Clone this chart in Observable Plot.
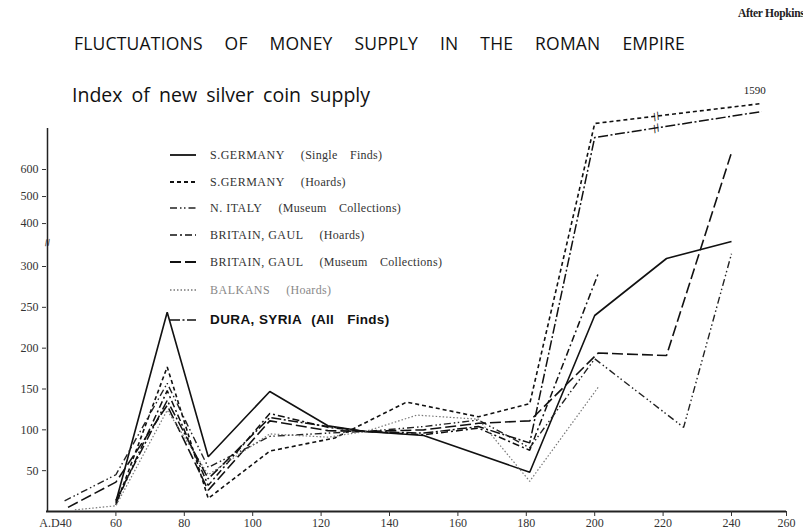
<!DOCTYPE html>
<html><head><meta charset="utf-8">
<script src="https://cdn.jsdelivr.net/npm/d3@7"></script>
<script src="https://cdn.jsdelivr.net/npm/@observablehq/plot@0.6"></script>
<style>
body{margin:0;background:#fff;}
#wrap{position:relative;width:803px;height:531px;overflow:hidden;background:#fff;}
.t{position:absolute;white-space:nowrap;line-height:1;}
#title{left:74px;top:35px;font-family:"Open Sans";font-size:17.5px;color:#111;letter-spacing:0.2px;}
#sub{left:72px;top:85px;font-family:"Open Sans";font-size:19.5px;color:#111;}
#after{left:738px;top:8px;font-family:"Liberation Serif";font-size:11.5px;font-weight:bold;color:#222;letter-spacing:-0.3px;}
.leg{position:absolute;left:170px;height:16px;white-space:nowrap;}
.leg svg{position:absolute;left:0;top:5px;}
.leg .lab{position:absolute;left:40px;top:0;font-family:"Liberation Serif";font-size:12px;color:#333;line-height:16px;letter-spacing:0.5px;}
.leg .src{margin-left:16px;word-spacing:9px;letter-spacing:0.3px;}
</style></head><body><div id="wrap"></div><script>
// ---- data ----
const seriesNames = ["S.GERMANY", "S.GERMANY", "N. ITALY", "BRITAIN, GAUL", "BRITAIN, GAUL", "BALKANS", "DURA, SYRIA"];
const seriesSources = ["(Single Finds)", "(Hoards)", "(Museum Collections)", "(Hoards)", "(Museum Collections)", "(Hoards)", "(All Finds)"];
const sGermanySingleYears = [60, 75, 87, 105, 122, 133, 150, 181, 200, 221, 240];
const sGermanySingleIndex = [12, 244, 67, 147, 105, 98, 93, 48, 240, 310, 334];
const sGermanyHoardYears  = [60, 75, 87, 105, 124, 145, 166, 181, 200, 251];
const sGermanyHoardIndex  = [8, 177, 16, 74, 90, 134, 116, 132, 1290, 1590];
const nItalyYears = [45, 60, 75, 87, 105, 122, 133, 150, 166, 181, 200, 226, 240];
const nItalyIndex = [13, 45, 157, 54, 92, 96, 98, 104, 112, 78, 187, 103, 316];
const britGaulHoardYears = [60, 75, 87, 105, 122, 133, 150, 166, 181, 201];
const britGaulHoardIndex = [10, 148, 32, 120, 103, 98, 94, 102, 75, 291];
const britGaulMuseumYears = [46, 60, 75, 87, 105, 122, 133, 150, 166, 181, 201, 221, 240];
const britGaulMuseumIndex = [5, 36, 130, 26, 111, 99, 98, 100, 108, 111, 194, 191, 855];
const balkansYears = [48, 60, 75, 87, 105, 122, 133, 148, 166, 181, 201];
const balkansIndex = [2, 7, 124, 45, 95, 91, 98, 118, 113, 37, 152];
const duraYears = [60, 75, 87, 105, 122, 133, 150, 166, 181, 200, 251];
const duraIndex = [14, 136, 40, 115, 104, 98, 96, 104, 84, 1080, 1470];

const xTickValues = [60, 80, 100, 120, 140, 160, 180, 200, 220, 240, 260];
const firstXTick = 40;
const firstXLabel = "A.D40";
const yTickValues = [50, 100, 150, 200, 250, 300, 400, 500, 600];
const brokenSeries = [1, 6];     // series drawn through the scale break
const breakYear = 218;
const axisBreakValue = 330;
const topLabel = "1590";

// ---- styles ----
const styles = [
  {dash: null, w: 1.6, color: "#111"},
  {dash: "4,3", w: 1.6, color: "#111"},
  {dash: "7,3,1.5,2.5,1.5,3", w: 1.4, color: "#222"},
  {dash: "7,3,2,3", w: 1.5, color: "#111"},
  {dash: "11,4", w: 1.6, color: "#111"},
  {dash: "1.5,2", w: 1.2, color: "#777"},
  {dash: "10,2.5,2,2.5", w: 1.5, color: "#111"}
];

const series = [
  [sGermanySingleYears, sGermanySingleIndex],
  [sGermanyHoardYears, sGermanyHoardIndex],
  [nItalyYears, nItalyIndex],
  [britGaulHoardYears, britGaulHoardIndex],
  [britGaulMuseumYears, britGaulMuseumIndex],
  [balkansYears, balkansIndex],
  [duraYears, duraIndex]
];
const rows = series.flatMap(([ys, vs], i) => ys.map((year, j) => ({series: i, year, value: vs[j]})));

const breakRows = brokenSeries.map(i => {
  const [ys, vs] = series[i];
  return {year: breakYear, value: d3.scaleLinear().domain(ys).range(vs)(breakYear)};
});
const endRow = {year: sGermanyHoardYears.at(-1), value: sGermanyHoardIndex.at(-1)};

const chart = Plot.plot({
  width: 803, height: 531,
  marginTop: 128, marginBottom: 20, marginLeft: 46, marginRight: 17,
  style: {fontFamily: "Liberation Serif", fontSize: "12px", color: "#333", background: "transparent"},
  x: {type: "linear", domain: [40, 240, 260], range: [47, 731, 786]},
  y: {type: "linear", domain: [0, 300, 330, 600, 1590], range: [511, 266, 242, 169, 103]},
  marks: [
    Plot.ruleY([0], {stroke: "#222", strokeWidth: 2}),
    Plot.ruleX([firstXTick], {stroke: "#222", strokeWidth: 1.5}),
    Plot.axisY({ticks: yTickValues, tickSize: 4, tickPadding: 4, fontSize: 12, color: "#333", label: null}),
    Plot.axisX({ticks: xTickValues, tickSize: 5, tickPadding: 2, fontSize: 12, color: "#333", label: null}),
    Plot.axisX({ticks: [firstXTick], tickSize: 0, tickPadding: 7, dx: 8, fontSize: 12, color: "#333", label: null, tickFormat: () => firstXLabel}),
    ...series.map((s, i) => Plot.line(rows.filter(r => r.series === i), {
      x: "year", y: "value", stroke: styles[i].color, strokeWidth: styles[i].w,
      strokeDasharray: styles[i].dash, strokeLinejoin: "miter", strokeLinecap: "butt"
    })),
    Plot.text(breakRows, {x: "year", y: "value", text: () => "//", fontSize: 12, fontWeight: "bold", rotate: -25, fill: "#111"}),
    Plot.text([{year: firstXTick, value: axisBreakValue}], {x: "year", y: "value", text: () => "//", fontSize: 10, fontWeight: "bold", rotate: -10, fill: "#111"}),
    Plot.text([endRow], {x: "year", y: "value", text: () => topLabel, dx: -7, dy: -13, fontSize: 11, fill: "#222"})
  ]
});

const wrap = document.getElementById("wrap");
wrap.appendChild(chart);

function addText(id, text) {
  const d = document.createElement("div");
  d.className = "t"; d.id = id; d.textContent = text;
  wrap.appendChild(d);
  return d;
}
function fitWidth(el, target) {
  const n = (el.textContent.match(/ /g) || []).length;
  if (!n) return;
  const w = el.getBoundingClientRect().width;
  el.style.wordSpacing = ((target - w) / n) + "px";
}
const title = addText("title", "FLUCTUATIONS OF MONEY SUPPLY IN THE ROMAN EMPIRE");
fitWidth(title, 611);
const sub = addText("sub", "Index of new silver coin supply");
fitWidth(sub, 298);
addText("after", "After Hopkins");

// legend
const legendCenters = [155, 182, 208, 235, 262, 290, 320];
seriesNames.forEach((name, i) => {
  const row = document.createElement("div");
  row.className = "leg";
  row.style.top = (legendCenters[i] - 8) + "px";
  const st = styles[i];
  row.innerHTML = `<svg width="26" height="6"><line x1="0" x2="26" y1="3" y2="3" stroke="${st.color}" stroke-width="${st.w + 0.2}" ${st.dash ? `stroke-dasharray="${st.dash}"` : ""}/></svg><span class="lab">${name}<span class="src">${seriesSources[i]}</span></span>`;
  wrap.appendChild(row);
  const lab = row.querySelector(".lab");
  if (i === 5) lab.style.color = "#888";
  if (i === 6) { lab.style.fontFamily = "Liberation Sans"; lab.style.fontWeight = "bold"; lab.style.fontSize = "13.5px"; lab.style.color = "#111"; lab.style.letterSpacing = "0.4px"; row.querySelector(".src").style.marginLeft = "9px"; }
});
</script></body></html>
